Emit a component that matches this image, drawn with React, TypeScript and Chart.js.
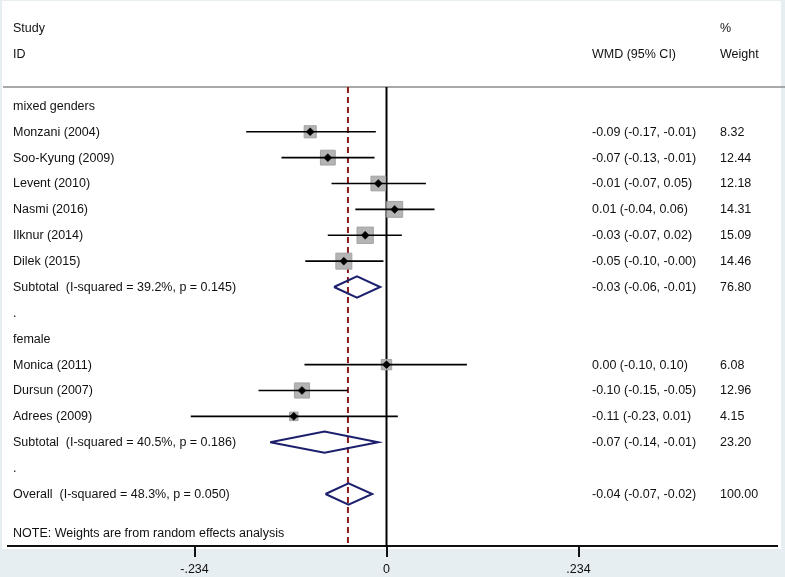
import React, { useEffect, useRef } from "react";
import { Chart, registerables } from "chart.js";

Chart.register(...registerables);

// ---- Data ----
const STUDY_LABELS = [
  "Monzani (2004)",
  "Soo-Kyung (2009)",
  "Levent (2010)",
  "Nasmi (2016)",
  "Ilknur (2014)",
  "Dilek (2015)",
  "Monica (2011)",
  "Dursun (2007)",
  "Adrees (2009)",
];
const STUDY_ROWS = [1, 2, 3, 4, 5, 6, 10, 11, 12];
const STUDY_EST = [-0.093, -0.0715, -0.01, 0.01, -0.026, -0.052, 0.0, -0.103, -0.113];
const STUDY_LO = [-0.171, -0.128, -0.067, -0.038, -0.0716, -0.099, -0.1, -0.156, -0.2386];
const STUDY_HI = [-0.013, -0.0146, 0.048, 0.0585, 0.0187, -0.0037, 0.098, -0.047, 0.0138];
const STUDY_WEIGHT = [8.32, 12.44, 12.18, 14.31, 15.09, 14.46, 6.08, 12.96, 4.15];
const STUDY_CI_TEXT = [
  "-0.09 (-0.17, -0.01)",
  "-0.07 (-0.13, -0.01)",
  "-0.01 (-0.07, 0.05)",
  "0.01 (-0.04, 0.06)",
  "-0.03 (-0.07, 0.02)",
  "-0.05 (-0.10, -0.00)",
  "0.00 (-0.10, 0.10)",
  "-0.10 (-0.15, -0.05)",
  "-0.11 (-0.23, 0.01)",
];
const STUDY_WEIGHT_TEXT = ["8.32", "12.44", "12.18", "14.31", "15.09", "14.46", "6.08", "12.96", "4.15"];

const POOLED_LABELS = [
  "Subtotal  (I-squared = 39.2%, p = 0.145)",
  "Subtotal  (I-squared = 40.5%, p = 0.186)",
  "Overall  (I-squared = 48.3%, p = 0.050)",
];
const POOLED_ROWS = [7, 13, 15];
const POOLED_EST = [-0.036, -0.0756, -0.0463];
const POOLED_LO = [-0.064, -0.1418, -0.0744];
const POOLED_HI = [-0.0077, -0.0101, -0.0174];
const POOLED_CI_TEXT = ["-0.03 (-0.06, -0.01)", "-0.07 (-0.14, -0.01)", "-0.04 (-0.07, -0.02)"];
const POOLED_WEIGHT_TEXT = ["76.80", "23.20", "100.00"];

const GROUP_LABELS = ["mixed genders", ".", "female", "."];
const GROUP_ROWS = [0, 8, 9, 14];

const HEADER_LEFT = ["Study", "ID"];
const HEADER_LEFT_ROWS = [-3, -2];
const HEADER_CI = "WMD (95% CI)";
const HEADER_CI_ROW = -2;
const HEADER_WEIGHT = ["%", "Weight"];
const HEADER_WEIGHT_ROWS = [-3, -2];

const NOTE_TEXT = "NOTE: Weights are from random effects analysis";
const NOTE_ROW = 16.5;

const OVERALL_LINE = -0.047;
const X_TICKS = [-0.234, 0, 0.234];
const X_TICK_LABELS = ["-.234", "0", ".234"];

const X_MIN = -0.4613;
const X_MAX = 0.4759;
const Y_MIN = -0.73;
const Y_MAX = 17.01;

const FONT_FAMILY = '"Liberation Sans", Arial, Helvetica, sans-serif';
const TEXT_COLOR = "#111111";

// ---- Plugins ----
const backgroundPlugin = {
  id: "bgPanel",
  beforeDraw(chart: any) {
    const { ctx, width, height } = chart;
    ctx.save();
    ctx.fillStyle = "#e7eef1";
    ctx.fillRect(0, 0, width, height);
    ctx.fillStyle = "#ffffff";
    ctx.fillRect(2, 1, 779, 548);
    // header separator
    ctx.strokeStyle = "#8c8c8c";
    ctx.lineWidth = 1.5;
    ctx.beginPath();
    ctx.moveTo(3, chart.chartArea.top);
    ctx.lineTo(width, chart.chartArea.top);
    ctx.stroke();
    ctx.restore();
  },
};

const textPlugin = {
  id: "forestText",
  afterDraw(chart: any) {
    const { ctx } = chart;
    const ys = chart.scales.y;
    const LX = 13;
    const CX = 592;
    const WX = 720;
    ctx.save();
    ctx.font = `12.5px ${FONT_FAMILY}`;
    ctx.fillStyle = TEXT_COLOR;
    ctx.textBaseline = "middle";
    ctx.textAlign = "left";
    const put = (t: string, x: number, r: number) => ctx.fillText(t, x, ys.getPixelForValue(r) + 0.5);
    HEADER_LEFT.forEach((t, i) => put(t, LX, HEADER_LEFT_ROWS[i]));
    put(HEADER_CI, CX, HEADER_CI_ROW);
    HEADER_WEIGHT.forEach((t, i) => put(t, WX, HEADER_WEIGHT_ROWS[i]));
    GROUP_LABELS.forEach((t, i) => put(t, LX, GROUP_ROWS[i]));
    STUDY_LABELS.forEach((t, i) => {
      put(t, LX, STUDY_ROWS[i]);
      put(STUDY_CI_TEXT[i], CX, STUDY_ROWS[i]);
      put(STUDY_WEIGHT_TEXT[i], WX, STUDY_ROWS[i]);
    });
    POOLED_LABELS.forEach((t, i) => {
      put(t, LX, POOLED_ROWS[i]);
      put(POOLED_CI_TEXT[i], CX, POOLED_ROWS[i]);
      put(POOLED_WEIGHT_TEXT[i], WX, POOLED_ROWS[i]);
    });
    put(NOTE_TEXT, LX, NOTE_ROW);
    ctx.restore();
  },
};

export default function App() {
  const canvasRef = useRef<HTMLCanvasElement | null>(null);

  useEffect(() => {
    if (!canvasRef.current) return;
    const DIAMOND_HALF = 0.41;

    const datasets: any[] = [];

    // point estimate markers (top)
    datasets.push({
      type: "scatter",
      order: 0,
      data: STUDY_EST.map((x, i) => ({ x, y: STUDY_ROWS[i] })),
      pointStyle: "rectRot",
      pointRadius: 4,
      pointBackgroundColor: "#000000",
      pointBorderColor: "#000000",
      pointBorderWidth: 0.5,
      showLine: false,
    });

    // pooled diamonds
    POOLED_EST.forEach((est, i) => {
      const r = POOLED_ROWS[i];
      datasets.push({
        type: "scatter",
        order: 1,
        data: [
          { x: POOLED_LO[i], y: r },
          { x: est, y: r - DIAMOND_HALF },
          { x: POOLED_HI[i], y: r },
          { x: est, y: r + DIAMOND_HALF },
          { x: POOLED_LO[i], y: r },
        ],
        showLine: true,
        borderColor: "#1c1f6b",
        borderWidth: 2,
        borderJoinStyle: "miter",
        tension: 0,
        pointRadius: 0,
        fill: false,
      });
    });

    // confidence interval lines
    STUDY_EST.forEach((_, i) => {
      datasets.push({
        type: "scatter",
        order: 2,
        data: [
          { x: STUDY_LO[i], y: STUDY_ROWS[i] },
          { x: STUDY_HI[i], y: STUDY_ROWS[i] },
        ],
        showLine: true,
        borderColor: "#000000",
        borderWidth: 1.7,
        pointRadius: 0,
        fill: false,
      });
    });

    // weight squares
    datasets.push({
      type: "scatter",
      order: 3,
      data: STUDY_EST.map((x, i) => ({ x, y: STUDY_ROWS[i] })),
      pointStyle: "rect",
      pointRadius: (c: any) => 2.97 * Math.sqrt(STUDY_WEIGHT[c.dataIndex] ?? 0),
      pointBackgroundColor: "#b4b4b4",
      pointBorderColor: "#a2a2a2",
      pointBorderWidth: 1,
      showLine: false,
    });

    // overall dashed line
    datasets.push({
      type: "scatter",
      order: 4,
      data: [
        { x: OVERALL_LINE, y: Y_MIN },
        { x: OVERALL_LINE, y: Y_MAX },
      ],
      showLine: true,
      borderColor: "#8b1a1a",
      borderWidth: 2,
      borderDash: [6, 4],
      pointRadius: 0,
      fill: false,
    });

    // null line
    datasets.push({
      type: "scatter",
      order: 5,
      data: [
        { x: 0, y: Y_MIN },
        { x: 0, y: Y_MAX },
      ],
      showLine: true,
      borderColor: "#000000",
      borderWidth: 2,
      pointRadius: 0,
      fill: false,
    });

    const chart = new Chart(canvasRef.current, {
      type: "scatter",
      data: { datasets },
      options: {
        responsive: false,
        animation: false,
        events: [],
        layout: { autoPadding: false, padding: { left: 8, right: 8, top: 87, bottom: 0 } },
        plugins: {
          legend: { display: false },
          tooltip: { enabled: false },
        },
        scales: {
          x: {
            type: "linear",
            min: X_MIN,
            max: X_MAX,
            afterBuildTicks: (s: any) => {
              s.ticks = X_TICKS.map((v) => ({ value: v }));
            },
            afterFit: (s: any) => {
              s.height = 31;
            },
            border: { display: true, color: "#111111", width: 2 },
            grid: {
              display: true,
              drawOnChartArea: false,
              drawTicks: true,
              tickLength: 11,
              color: "#111111",
              lineWidth: 2,
            },
            ticks: {
              padding: 5,
              color: TEXT_COLOR,
              font: { family: FONT_FAMILY, size: 12.5 },
              maxRotation: 0,
              autoSkip: false,
              callback: (_v: any, i: number) => X_TICK_LABELS[i],
            },
          },
          y: {
            type: "linear",
            display: false,
            min: Y_MIN,
            max: Y_MAX,
            reverse: true,
          },
        },
      } as any,
      plugins: [backgroundPlugin, textPlugin],
    });

    return () => chart.destroy();
  }, []);

  return (
    <div style={{ position: "absolute", left: 0, top: 0, width: 785, height: 577 }}>
      <canvas ref={canvasRef} width={785} height={577} style={{ width: 785, height: 577, display: "block" }} />
    </div>
  );
}
